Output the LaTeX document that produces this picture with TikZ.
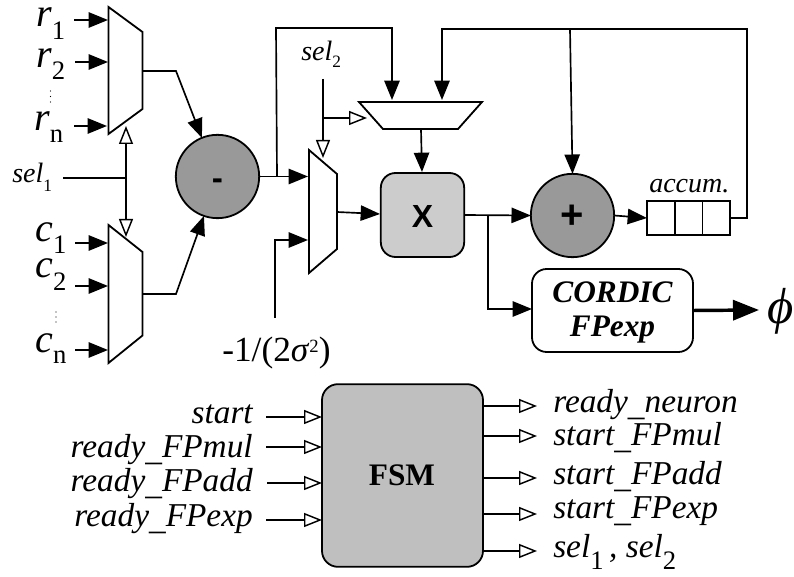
\documentclass[tikz,border=0pt]{standalone}
\usepackage{fontspec}
\setmainfont{Liberation Serif}
\newfontfamily\lsans{Liberation Sans}
\usetikzlibrary{arrows.meta}
\newcommand{\fsz}[1]{\fontsize{#1}{#1}\selectfont}
\newcommand{\dn}[3]{\raisebox{-#1pt}{\fsz{#2}\upshape #3}}
\newcommand{\us}{\raisebox{-2.2pt}{\_}}
\tikzset{
  wire/.style={line width=1.25pt,line join=miter},
  ar/.style={wire,-{Triangle[length=14.5pt,width=11.5pt]}},
  oar/.style={wire,-{Triangle[open,length=13.5pt,width=10.5pt,line width=1.1pt,fill=white]}},
  muxs/.style={draw,line width=1.35pt,fill=white,line join=miter},
  opc/.style={circle,draw,line width=1.35pt,fill=black!40,minimum size=62.5pt,inner sep=0pt,outer sep=0pt},
  sym/.style={font=\lsans\bfseries\fsz{24},inner sep=0pt},
  lab/.style={inner sep=0pt,anchor=base west,font=\itshape\fsz{30}},
  sig/.style={inner sep=0pt,anchor=base east,font=\itshape\fsz{25}},
  sog/.style={inner sep=0pt,anchor=base west,font=\itshape\fsz{25}},
  tinydot/.style={fill=black,draw=none},
  cbox/.style={draw,line width=1.35pt,rounded corners=11pt,inner sep=0pt,outer sep=0pt},
}
\begin{document}
\begin{tikzpicture}[x=0.75pt,y=-0.75pt]
\useasboundingbox (0,0) rectangle (794,577);
% multiplexers
\draw[muxs] (108.5,7) -- (142.5,32) -- (142.5,109) -- (108.5,134) -- cycle;
\draw[muxs] (108.5,225) -- (142.5,252) -- (142.5,335.5) -- (108.5,363) -- cycle;
\draw[muxs] (309,150) -- (337,174) -- (337,249) -- (309,273) -- cycle;
\draw[muxs] (359,102) -- (482,102) -- (458,129) -- (383,129) -- cycle;
% blocks
\node[opc] (minus) at (217.5,176.5) {};
\node[sym,font=\lsans\bfseries\fsz{25}] (minustxt) at (217.5,184.5) {-};
\node[cbox,fill=black!20,minimum width=62.5pt,minimum height=63pt] (mul) at (422.5,215) {};
\node[sym] (multxt) at (422.5,216.5) {X};
\node[opc] (plus) at (572.5,215.5) {};
\node[sym,font=\lsans\bfseries\fsz{30}] (plustxt) at (572.5,217) {+};
\node[draw,line width=1.35pt,minimum width=62.25pt,minimum height=25.5pt,inner sep=0pt,outer sep=0pt] (acc) at (688.5,218) {};
\draw[line width=1.35pt] (675,201) -- (675,235) (702.5,201) -- (702.5,235);
\node[cbox,fill=white,minimum width=120.75pt,minimum height=62.25pt] (cordic) at (612.5,310.5) {};
\node[cbox,fill=black!25,minimum width=120.75pt,minimum height=137pt,rounded corners=12pt] (fsm) at (402.5,475.5) {};
% ports and junctions
\coordinate (r1a) at (74,20); \coordinate (r1b) at (108,20);
\coordinate (r2a) at (75,62); \coordinate (r2b) at (108,62);
\coordinate (rna) at (74,126); \coordinate (rnb) at (107,126);
\coordinate (c1a) at (75,243); \coordinate (c1b) at (108,243);
\coordinate (c2a) at (75,286); \coordinate (c2b) at (108,286);
\coordinate (cna) at (75,350); \coordinate (cnb) at (108,350);
\coordinate (m1o) at (143,71); \coordinate (m1k) at (176,71);
\coordinate (m2o) at (143,294); \coordinate (m2k) at (176,294);
\coordinate (s1a) at (63,178); \coordinate (s1j) at (126,178);
\coordinate (s1u) at (126,126); \coordinate (s1d) at (126,237);
\coordinate (mj) at (277,176.5); \coordinate (m3i) at (308,176.5);
\coordinate (tk1) at (276,28); \coordinate (tk2) at (392,28); \coordinate (tt1) at (392,100);
\coordinate (s2a) at (323,79); \coordinate (s2j) at (323,118); \coordinate (s2d) at (323,158); \coordinate (s2r) at (367,118);
\coordinate (sga) at (275,318); \coordinate (sgk) at (275,240); \coordinate (sgb) at (308,240);
\coordinate (m3o) at (337,212); \coordinate (mui) at (380,214);
\coordinate (tto) at (421,129); \coordinate (mut) at (422,172);
\coordinate (xj) at (488,215); \coordinate (xk) at (488,309);
\coordinate (fb0) at (730,218); \coordinate (fb1) at (747,218); \coordinate (fb2) at (747,29);
\coordinate (fb3) at (442,29); \coordinate (fb4) at (442,100); \coordinate (fbj) at (570,29);
\coordinate (phi) at (759,310);
% data connectors
\draw[ar] (r1a) -- (r1b);
\draw[ar] (r2a) -- (r2b);
\draw[ar] (rna) -- (rnb);
\draw[ar] (c1a) -- (c1b);
\draw[ar] (c2a) -- (c2b);
\draw[ar] (cna) -- (cnb);
\draw[ar] (m1o) -- (m1k) -- (minus.112);
\draw[ar] (m2o) -- (m2k) -- (minus.251);
\draw[ar] (minus.east) -- (m3i);
\draw[ar] (mj) -- (tk1) -- (tk2) -- (tt1);
\draw[ar] (sga) -- (sgk) -- (sgb);
\draw[ar] (m3o) -- (mui);
\draw[ar] (tto) -- (mut);
\draw[ar] (mul.east) -- (plus.west);
\draw[ar] (xj) -- (xk) -- (cordic.west |- xk);
\draw[ar] (plus.east) -- (acc.west);
\draw[ar] (fb0) -- (fb1) -- (fb2) -- (fb3) -- (fb4);
\draw[ar] (fbj) -- (plus.north);
\draw[line width=2.6pt,-{Triangle[length=19.5pt,width=15pt]}] (cordic.east) -- (phi);
% select connectors
\draw[wire] (s1a) -- (s1j);
\draw[oar] (s1j) -- (s1u);
\draw[oar] (s1j) -- (s1d);
\draw[oar] (s2a) -- (s2d);
\draw[oar] (s2j) -- (s2r);
% FSM connectors
\coordinate (i1) at (266,417); \coordinate (i2) at (266,447); \coordinate (i3) at (267,483); \coordinate (i4) at (266,520);
\draw[oar] (i1) -- (i1 -| fsm.west);
\draw[oar] (i2) -- (i2 -| fsm.west);
\draw[oar] (i3) -- (i3 -| fsm.west);
\draw[oar] (i4) -- (i4 -| fsm.west);
\coordinate (o1) at (537,406); \coordinate (o2) at (537,436); \coordinate (o3) at (537,478); \coordinate (o4) at (537,514); \coordinate (o5) at (537,551);
\draw[oar] (o1 -| fsm.east) -- (o1);
\draw[oar] (o2 -| fsm.east) -- (o2);
\draw[oar] (o3 -| fsm.east) -- (o3);
\draw[oar] (o4 -| fsm.east) -- (o4);
\draw[oar] (o5 -| fsm.east) -- (o5);
% labels
\node[lab] (lr1) at (36,27) {r\dn{9.5}{20}{1}};
\node[lab] (lr2) at (36,68) {r\dn{8.5}{20}{2}};
\node[lab] (lrn) at (34,131) {r\dn{9}{20}{n}};
\fill[tinydot] (50.5,91) circle (0.5pt) (50.5,96.5) circle (0.5pt) (50.5,102) circle (0.5pt);
\node[lab] (lc1) at (35,242) {c\dn{8.5}{20}{1}};
\node[lab] (lc2) at (35,278) {c\dn{9.5}{20}{2}};
\node[lab] (lcn) at (35,353) {c\dn{8}{20}{n}};
\fill[tinydot] (56,312) circle (0.5pt) (56,317) circle (0.5pt) (56,322) circle (0.5pt);
\node[lab,font=\itshape\fsz{21}] (ls1) at (12,183) {sel\dn{6.5}{13}{1}};
\node[lab,font=\itshape\fsz{21}] (ls2) at (301,61) {sel\dn{5}{13}{2}};
\node[lab,font=\itshape\fsz{21}] (lacc) at (649,193) {accum.};
\node[lab,font=\fsz{26.5}] (lsg) at (222,362) {-1/(2\textit{σ}\raisebox{7pt}{\fsz{14}2})};
\node[inner sep=0pt,anchor=base,font=\bfseries\itshape\fsz{23.5}] (c1) at (612.5,303) {CORDIC};
\node[inner sep=0pt,anchor=base,font=\bfseries\itshape\fsz{23.5}] (c2) at (612.5,337) {FPexp};
\node[lab,font=\itshape\fsz{38}] (lphi) at (767,324) {ϕ};
\node[inner sep=0pt,font=\bfseries\fsz{23.5}] (fsmt) at (402,475) {FSM};
\node[sig] (a1) at (253,424) {start};
\node[sig] (a2) at (253,458) {ready\us FPmul};
\node[sig] (a3) at (253,492) {ready\us FPadd};
\node[sig] (a4) at (253,527) {ready\us FPexp};
\node[sog] (b1) at (553,413) {ready\us neuron};
\node[sog] (b2) at (553,446) {start\us FPmul};
\node[sog] (b3) at (553,485) {start\us FPadd};
\node[sog] (b4) at (553,519) {start\us FPexp};
\node[sog] (b5) at (553,558) {sel\dn{9}{20}{1}\,, sel\dn{9}{20}{2}};
\end{tikzpicture}
\end{document}
